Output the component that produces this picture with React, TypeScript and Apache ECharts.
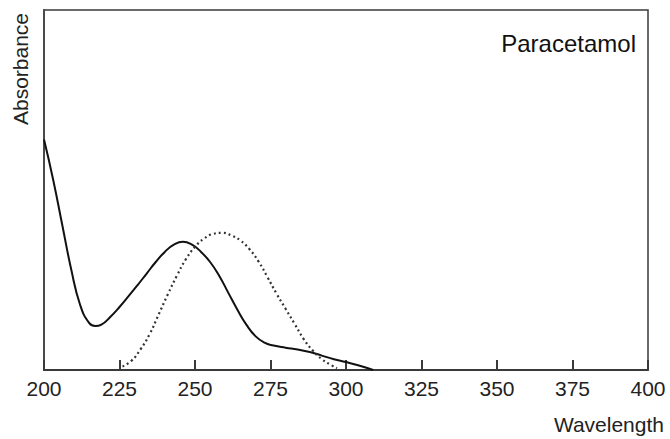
import React, { useEffect, useRef } from "react";
import * as echarts from "echarts";

const xTicks = [200, 225, 250, 275, 300, 325, 350, 375, 400];

// Solid curve — wavelength (nm), absorbance (arbitrary units)
const solidWl = [200, 203, 206, 209, 212, 215, 217, 219, 222, 225, 228, 231, 234, 237, 240, 243, 246, 249, 252, 255, 258, 261, 264, 267, 270, 273, 276, 280, 284, 288, 292, 296, 300, 304, 309];
const solidAbs = [64, 53, 40.5, 28, 18, 13, 12.2, 12.6, 14.8, 17.5, 20.5, 23.6, 26.8, 30, 32.8, 34.8, 35.6, 34.8, 32.8, 30, 26.2, 21.5, 16.8, 12.6, 9.4, 7.6, 6.8, 6.2, 5.7, 5.0, 4.0, 3.0, 2.2, 1.3, 0];

// Dotted curve
const dottedWl = [226, 229, 232, 235, 238, 241, 244, 247, 250, 253, 256, 259, 262, 265, 268, 271, 274, 277, 280, 283, 286, 289, 292, 295, 297];
const dottedAbs = [1, 2.6, 5.8, 10, 15.5, 21, 26.2, 30.8, 34.2, 36.5, 37.8, 38.1, 37.4, 36, 33.6, 30.2, 25.8, 21.2, 17, 12.8, 8.6, 5.4, 3, 1.4, 0.5];

const titleText = "Paracetamol";
const xName = "Wavelength";
const yName = "Absorbance";

export default function App() {
  const ref = useRef<HTMLDivElement>(null);
  useEffect(() => {
    if (!ref.current) return;
    const chart = echarts.init(ref.current, null, { renderer: "svg" });
    const font = "'Liberation Sans', Arial, sans-serif";
    chart.setOption({
      animation: false,
      backgroundColor: "#ffffff",
      grid: {
        left: 44,
        right: 22,
        top: 10,
        bottom: 69,
        show: true,
        borderColor: "#3a3a3a",
        borderWidth: 1.5,
      },
      xAxis: {
        type: "value",
        min: xTicks[0],
        max: xTicks[xTicks.length - 1],
        interval: 25,
        axisLine: { show: true, lineStyle: { color: "#3a3a3a", width: 2 } },
        axisTick: { show: true, inside: true, length: 10, lineStyle: { color: "#3a3a3a", width: 2 } },
        axisLabel: { fontSize: 21, color: "#222", fontFamily: font, margin: 8 },
        splitLine: { show: false },
      },
      yAxis: {
        type: "value",
        min: 0,
        max: 100,
        axisLine: { show: true, lineStyle: { color: "#4a4a4a", width: 2 } },
        axisTick: { show: false },
        axisLabel: { show: false },
        splitLine: { show: false },
      },
      graphic: [
        {
          type: "text",
          x: 636,
          y: 43,
          style: { text: titleText, font: `24px ${font}`, fill: "#111", textAlign: "right", textVerticalAlign: "middle" },
        },
        {
          type: "text",
          x: 664,
          y: 424,
          style: { text: xName, font: `21px ${font}`, fill: "#222", textAlign: "right", textVerticalAlign: "middle" },
        },
        {
          type: "text",
          x: 20,
          y: 69,
          rotation: Math.PI / 2,
          style: { text: yName, font: `21px ${font}`, fill: "#222", textAlign: "center", textVerticalAlign: "middle" },
        },
      ],
      series: [
        {
          type: "line",
          data: solidWl.map((w, i) => [w, solidAbs[i]]),
          smooth: 0.5,
          showSymbol: false,
          lineStyle: { color: "#111", width: 2 },
        },
        {
          type: "line",
          data: dottedWl.map((w, i) => [w, dottedAbs[i]]),
          smooth: 0.5,
          showSymbol: false,
          lineStyle: { color: "#333", width: 2.2, type: [2, 3] },
        },
      ],
    });
    return () => chart.dispose();
  }, []);
  return <div ref={ref} style={{ position: "fixed", left: 0, top: 0, width: 670, height: 439 }} />;
}
